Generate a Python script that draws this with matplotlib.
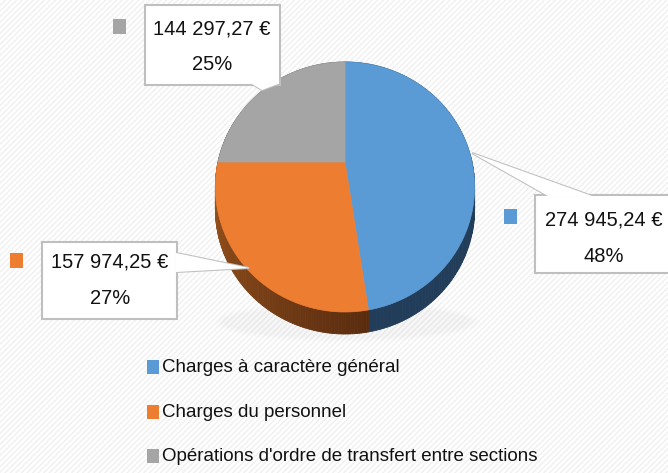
"""
Répartition des charges : camembert 3D façon Excel avec étiquettes en bulles.
"""

import matplotlib
matplotlib.use("Agg")
import matplotlib.pyplot as plt
import numpy as np
from matplotlib.colors import to_rgb
from matplotlib.patches import Polygon, Rectangle, Ellipse

# Données
categories = ["Charges à caractère général",
              "Charges du personnel",
              "Opérations d'ordre de transfert entre sections"]
montants = [274945.24, 157974.25, 144297.27]
montant_labels = ["274 945,24 €", "157 974,25 €", "144 297,27 €"]
pct_labels = ["48%", "27%", "25%"]

colors = ["#5b9bd5", "#ed7d31", "#a5a5a5"]
# side shading: (colour at start of arc, colour at end of arc)
side_colors = [("#213d59", "#213d59"),
               ("#a0581f", "#5a2c0f"),
               ("#5e5e5e", "#5e5e5e")]

plt.rcParams["font.family"] = ["Liberation Sans", "DejaVu Sans"]

W, H = 668, 473
fig = plt.figure(figsize=(W / 100, H / 100), dpi=100)
ax = fig.add_axes([0, 0, 1, 1])

# Pie angles computed by matplotlib, then projected in perspective
wedges, _ = ax.pie(montants, startangle=90, counterclock=False,
                   colors=colors, radius=1, center=(0, 0))
angles = [(w.theta1, w.theta2) for w in wedges]
for w in wedges:
    w.remove()

ax.set_aspect("auto")
ax.set_xlim(0, W)
ax.set_ylim(H, 0)
ax.axis("off")

# background with faint stripes
ax.add_patch(Rectangle((0, 0), W, H, facecolor="white", edgecolor="#f0f0f0",
                       hatch="//////", linewidth=0, zorder=0))

cx, cy, a, c, k = 345, 162, 127, 120, 0.2
depth = 22


def proj(x, y):
    d = 1 + k * y
    return cx + a * x / d, cy - c * y / d


# soft shadow below the pie
for i in range(4):
    ax.add_patch(Ellipse((347, 322), 248 + i * 6, 32 + i * 3,
                         facecolor="#b8b8b8", edgecolor="none",
                         alpha=0.025, zorder=1))

for (t1, t2), col, (sc1, sc2) in zip(angles, colors, side_colors):
    n = 120
    th = np.radians(np.linspace(t1, t2, n))
    px, py = proj(np.cos(th), np.sin(th))
    c1, c2 = np.array(to_rgb(sc1)), np.array(to_rgb(sc2))
    # side band, drawn in thin strips to allow a gradient
    for j in range(n - 1):
        f = j / (n - 2)
        scol = c1 * (1 - f) + c2 * f
        quad = [(px[j], py[j]), (px[j + 1], py[j + 1]),
                (px[j + 1], py[j + 1] + depth), (px[j], py[j] + depth)]
        ax.add_patch(Polygon(quad, closed=True, facecolor=scol,
                             edgecolor=scol, linewidth=0.6, zorder=2))
    # top face
    ox, oy = proj(0, 0)
    top = np.column_stack([np.r_[ox, px], np.r_[oy, py]])
    ax.add_patch(Polygon(top, closed=True, facecolor=col, edgecolor=col,
                         linewidth=0.5, zorder=3))

# callout boxes: (box x0, y0, x1, y1), pointer polygon, marker square
box_edge = "#bfbfbf"
callouts = [
    # blue
    dict(box=(535, 195, 672, 273), ptr=[(548, 196), (472, 153), (592, 196)],
         sq=(504, 209), text=(604, 220), pct=(604, 256)),
    # orange
    dict(box=(42, 242, 177, 319), ptr=[(176, 253), (249, 268), (176, 272)],
         sq=(10, 253), text=(110, 262), pct=(110, 298)),
    # gray
    dict(box=(145, 5, 280, 85), ptr=[(252, 84), (262, 90), (278, 84)],
         sq=(113, 19), text=(212, 29), pct=(212, 64)),
]

for i, cfg in enumerate(callouts):
    x0, y0, x1, y1 = cfg["box"]
    ax.add_patch(Rectangle((x0, y0), x1 - x0, y1 - y0, facecolor="white",
                           edgecolor=box_edge, linewidth=1.5, zorder=5))
    ax.add_patch(Polygon(cfg["ptr"], closed=False, facecolor="white",
                         edgecolor=box_edge, linewidth=1.5, zorder=4))
    ax.add_patch(Polygon(cfg["ptr"], closed=True, facecolor="white",
                         edgecolor="none", zorder=6))
    sx, sy = cfg["sq"]
    ax.add_patch(Rectangle((sx, sy), 13, 15, facecolor=colors[i],
                           edgecolor="none", zorder=5))
    ax.text(*cfg["text"], montant_labels[i], fontsize=14.5, ha="center",
            va="center", color="#111111", zorder=7)
    ax.text(*cfg["pct"], pct_labels[i], fontsize=14.5, ha="center",
            va="center", color="#111111", zorder=7)

# legend
leg_y = [367, 412, 456]
for i, (lab, yy) in enumerate(zip(categories, leg_y)):
    ax.add_patch(Rectangle((147, yy - 7), 12, 14, facecolor=colors[i],
                           edgecolor="none", zorder=5))
    ax.text(162, yy, lab, fontsize=13.5, ha="left", va="center",
            color="#111111", zorder=5)

plt.savefig("out.png", dpi=100)
